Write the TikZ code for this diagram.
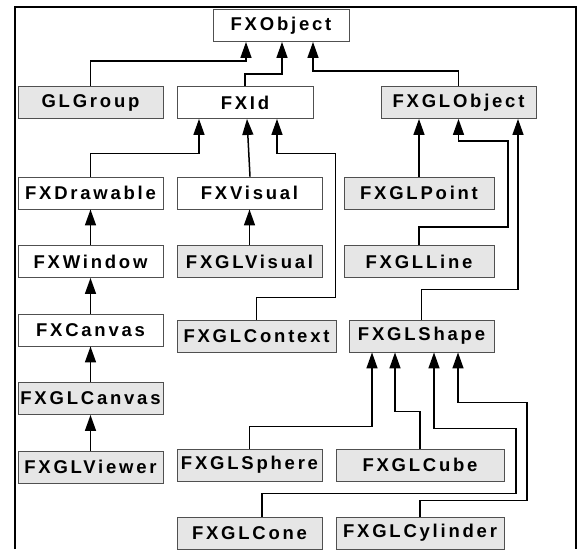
\documentclass[tikz,border=0pt]{standalone}
\usepackage{fontspec}
\setmainfont{Liberation Sans}[LetterSpace=15]
\usetikzlibrary{arrows.meta,positioning}
\definecolor{boxline}{HTML}{505050}
\definecolor{glfill}{HTML}{E6E6E6}

\begin{document}
\begin{tikzpicture}[x=1pt,y=-1pt,node distance=68.5pt,on grid,
    cls/.style={draw=boxline,line width=0.9pt,fill=white,minimum width=145pt,
      minimum height=32pt,inner sep=0pt,font=\fontsize{18.5}{18.5}\selectfont\bfseries},
    glcls/.style={cls,fill=glfill},
    inh/.style={line width=1.5pt,-{Triangle[length=16pt,width=11pt]}}]
   \useasboundingbox (0,0) rectangle (578,549);
   \draw[line width=2pt] (15,549) -- (15,7) -- (576,7) -- (576,549);

   \node[cls,minimum width=136pt] (FXObject) at (281,25.5) {FXObject};
   \node[glcls] (GLGroup) at (90.5,102.5) {GLGroup};
   \node[cls,minimum width=136pt] (FXId) at (245,102.5) {FXId};
   \node[glcls,minimum width=155pt] (FXGLObject) at (458.5,102.5) {FXGLObject};

   \node[cls] (FXDrawable) at (90.5,193) {FXDrawable};
   \node[cls] (FXWindow) [below=of FXDrawable] {FXWindow};
   \node[cls] (FXCanvas) [below=of FXWindow] {FXCanvas};
   \node[glcls] (FXGLCanvas) [below=of FXCanvas] {FXGLCanvas};
   \node[glcls] (FXGLViewer) [below=of FXGLCanvas] {FXGLViewer};

   \node[cls] (FXVisual) at (249.5,193) {FXVisual};
   \node[glcls] (FXGLVisual) [below=of FXVisual] {FXGLVisual};
   \node[glcls,minimum width=159pt] (FXGLContext) at (256.5,336) {FXGLContext};
   \node[glcls] (FXGLSphere) at (249.5,465) {FXGLSphere};
   \node[glcls] (FXGLCone) [below=68pt of FXGLSphere] {FXGLCone};

   \node[glcls,minimum width=150pt] (FXGLPoint) at (419,193) {FXGLPoint};
   \node[glcls,minimum width=150pt] (FXGLLine) [below=of FXGLPoint] {FXGLLine};
   \node[glcls] (FXGLShape) at (421.5,336) {FXGLShape};
   \node[glcls,minimum width=168pt] (FXGLCube) at (420,465) {FXGLCube};
   \node[glcls,minimum width=168pt] (FXGLCylinder) [below=68pt of FXGLCube] {FXGLCylinder};

   % top level
   \draw[inh] (GLGroup.north) -- ++(0,-25) -| ([xshift=-35pt]FXObject.south);
   \draw[inh] (FXId.north) -- ++(0,-12) -| ([xshift=1pt]FXObject.south);
   \draw[inh] (FXGLObject.north) -- ++(0,-15) -| ([xshift=32pt]FXObject.south);

   % FXId
   \draw[inh] (FXDrawable.north) -- ++(0,-23) -| ([xshift=-46pt]FXId.south);
   \draw[inh] ([xshift=0.5pt]FXVisual.north) -- ([xshift=2pt]FXId.south);
   \draw[inh] (FXGLContext.north) -- ++(0,-22) -| ++(79,-144) -| ([xshift=32pt]FXId.south);

   % left column and FXVisual
   \draw[inh] (FXWindow) -- (FXDrawable);
   \draw[inh] (FXCanvas) -- (FXWindow);
   \draw[inh] (FXGLCanvas) -- (FXCanvas);
   \draw[inh] (FXGLViewer) -- (FXGLCanvas);
   \draw[inh] (FXGLVisual) -- (FXVisual);

   % FXGLObject
   \draw[inh] (FXGLPoint.north) -- (FXGLPoint.north |- FXGLObject.south);
   \draw[inh] (FXGLLine.north) -- ++(0,-18) -| ++(89,-86) -| (FXGLObject.south);
   \draw[inh] (FXGLShape.north) -- ++(0,-30) -| ([xshift=59.5pt]FXGLObject.south);

   % FXGLShape
   \draw[inh] (FXGLSphere.north) -- ++(0,-22) -| ([xshift=-49.5pt]FXGLShape.south);
   \draw[inh] (FXGLCube.north) -- ++(0,-37) -| ([xshift=-26.5pt]FXGLShape.south);
   \draw[inh] ([xshift=12.5pt]FXGLCone.north) -- ++(0,-23) -| ++(254,-65) -| ([xshift=12.5pt]FXGLShape.south);
   \draw[inh] (FXGLCylinder.north) -- ++(0,-16) -| ++(107,-98) -| ([xshift=36.5pt]FXGLShape.south);
\end{tikzpicture}
\end{document}
